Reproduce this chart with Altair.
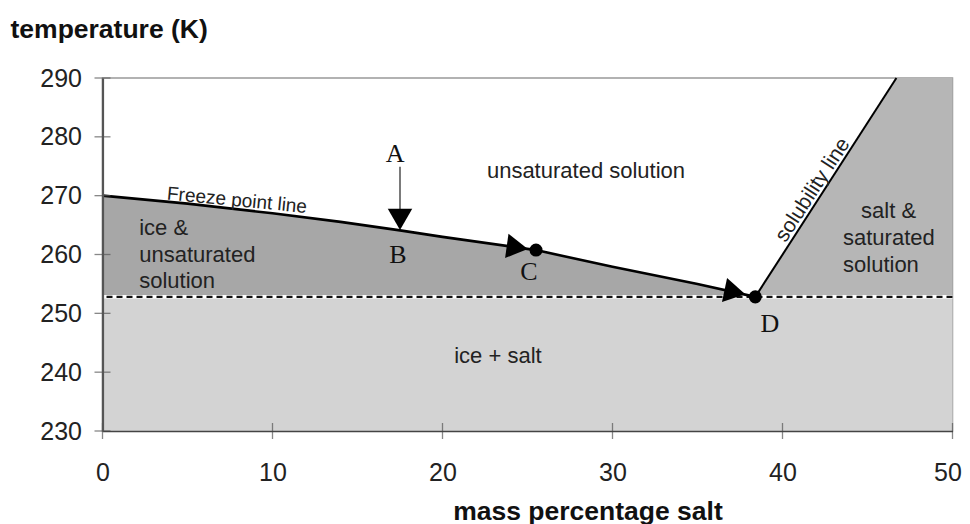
import altair as alt
import pandas as pd

# ---------------- data ----------------
x_ticks = [0, 10, 20, 30, 40, 50]
y_ticks = [230, 240, 250, 260, 270, 280, 290]

# freeze point line (mass % salt, K)
freeze_x = [0, 5, 10, 14, 17.5, 20, 25.5, 30, 35, 38.4]
freeze_T = [270.0, 268.65, 267.0, 265.55, 264.1, 263.0, 260.75, 257.9, 255.0, 252.8]
eutectic_T = 252.8

# solubility line
sol_x = [38.4, 46.7]
sol_T = [252.8, 290.0]

# labelled points
pt_names = ["B", "C", "D"]
pt_x = [17.5, 25.5, 38.4]
pt_T = [264.1, 260.75, 252.8]

# arrow A -> B shaft
arrow_x = [17.5]
arrow_top = [274.9]
arrow_bot = [267.6]

# direction markers along the freeze line
dirBC_x = [24.4]
dirBC_T = [261.2]
dirD_x = [37.2]
dirD_T = [253.6]

# text annotations
center_labels = ["unsaturated solution", "ice + salt"]
center_x = [28.44, 23.26]
center_T = [273.05, 241.56]

left_labels = ["ice &", "unsaturated", "solution", "salt &", "saturated", "solution"]
left_x = [2.16, 2.16, 2.16, 44.62, 43.56, 43.56]
left_T = [263.31, 258.77, 254.30, 266.20, 261.61, 257.08]

letters = ["A", "B", "C", "D"]
letter_x = [17.21, 17.38, 25.09, 39.26]
letter_T = [275.77, 258.55, 255.66, 246.83]

freeze_lbl = ["Freeze point line"]
freeze_lbl_x = [7.88]
freeze_lbl_T = [268.21]

sol_lbl = ["solubility line"]
sol_lbl_x = [41.79]
sol_lbl_T = [270.96]

# ---------------- frames ----------------
xmin, xmax = x_ticks[0], x_ticks[-1]
ymin, ymax = y_ticks[0], y_ticks[-1]

icesalt_df = pd.DataFrame({"x": [xmin], "x2": [xmax], "y": [ymin], "y2": [eutectic_T]})
freeze_df = pd.DataFrame({"x": freeze_x, "y": freeze_T, "y2": [eutectic_T] * len(freeze_x)})
salt_df = pd.DataFrame({"x": sol_x, "x2": [xmax] * len(sol_x), "y": sol_T})
sol_df = pd.DataFrame({"x": sol_x, "y": sol_T})
eut_df = pd.DataFrame({"y": [eutectic_T]})
pts_df = pd.DataFrame({"name": pt_names, "x": pt_x, "y": pt_T})
arrow_df = pd.DataFrame({"x": arrow_x, "y": arrow_top, "y2": arrow_bot})
B_df = pts_df[pts_df["name"] == "B"]
CD_df = pts_df[pts_df["name"] != "B"]
dirBC_df = pd.DataFrame({"x": dirBC_x, "y": dirBC_T})
dirD_df = pd.DataFrame({"x": dirD_x, "y": dirD_T})
center_df = pd.DataFrame({"t": center_labels, "x": center_x, "y": center_T})
left_df = pd.DataFrame({"t": left_labels, "x": left_x, "y": left_T})
letter_df = pd.DataFrame({"t": letters, "x": letter_x, "y": letter_T})
flbl_df = pd.DataFrame({"t": freeze_lbl, "x": freeze_lbl_x, "y": freeze_lbl_T})
slbl_df = pd.DataFrame({"t": sol_lbl, "x": sol_lbl_x, "y": sol_lbl_T})
xt_df = pd.DataFrame({"x": x_ticks, "y": [ymin] * len(x_ticks)})
yt_df = pd.DataFrame({"x": [xmin] * len(y_ticks), "y": y_ticks})

# ---------------- scales / axes ----------------
xs = alt.Scale(domain=[xmin, xmax], nice=False, zero=False)
ys = alt.Scale(domain=[ymin, ymax], nice=False, zero=False)

SANS = "Liberation Sans"
SERIF = "Liberation Serif"

x_axis = alt.Axis(
    values=x_ticks, title="mass percentage salt", grid=False, ticks=False, tickSize=0,
    labelPadding=29, labelFontSize=25, labelFont=SANS, labelColor="#222",
    labelFlush=False, labelBaseline="top",
    labelOffset={"condition": {"test": f"datum.value == {xmax}", "value": -5}, "value": 0},
    titleFont=SANS, titleFontSize=26.5, titleFontWeight="bold", titleColor="#111",
    titleX=485, titleY=88, titleAlign="center", titleBaseline="alphabetic",
    domainColor="#444", domainWidth=1.6, zindex=1,
)
y_axis = alt.Axis(
    values=y_ticks, title="temperature (K)", grid=False, ticks=False, tickSize=0,
    labelPadding=21, labelFontSize=25, labelFont=SANS, labelColor="#222",
    labelFlush=False,
    titleFont=SANS, titleFontSize=26.5, titleFontWeight="bold", titleColor="#111",
    titleAngle=0, titleX=-92.5, titleY=-41, titleAlign="left", titleBaseline="alphabetic",
    domainColor="#555", domainWidth=2.2, zindex=1,
)


def X(f="x"):
    return alt.X(f"{f}:Q", scale=xs, axis=x_axis)


def Y(f="y"):
    return alt.Y(f"{f}:Q", scale=ys, axis=y_axis)


# ---------------- layers ----------------
icesalt = alt.Chart(icesalt_df).mark_rect(color="#d3d3d3").encode(
    x=X(), x2="x2:Q", y=Y(), y2="y2:Q")

iceunsat = alt.Chart(freeze_df).mark_area(color="#a7a7a7", opacity=1).encode(
    x=X(), y=Y(), y2="y2:Q")

saltsat = alt.Chart(salt_df).mark_area(color="#b6b6b6", opacity=1, orient="horizontal").encode(
    y=Y(), x=X(), x2="x2:Q")

eut_white = alt.Chart(eut_df).mark_rule(color="white", strokeWidth=3.5).encode(y=Y())
eut_dash = alt.Chart(eut_df).mark_rule(color="#111", strokeWidth=2.2, strokeDash=[6, 4]).encode(y=Y())

freeze_line = alt.Chart(freeze_df).mark_line(color="black", strokeWidth=2.6).encode(x=X(), y=Y())
sol_line = alt.Chart(sol_df).mark_line(color="black", strokeWidth=2).encode(x=X(), y=Y())

arrow = alt.Chart(arrow_df).mark_rule(color="#333", strokeWidth=1.3).encode(x=X(), y=Y(), y2="y2:Q")
tri_B = alt.Chart(B_df).mark_point(shape="triangle-down", filled=True, size=600, color="black",
                                    opacity=1, yOffset=-11).encode(x=X(), y=Y())
tri_BC = alt.Chart(dirBC_df).mark_point(shape="triangle-right", filled=True, size=600, color="black",
                                         opacity=1, angle=8).encode(x=X(), y=Y())
tri_D = alt.Chart(dirD_df).mark_point(shape="triangle-right", filled=True, size=600, color="black",
                                       opacity=1, angle=12).encode(x=X(), y=Y())
dots = alt.Chart(CD_df).mark_point(shape="circle", filled=True, size=170, color="black",
                                    opacity=1).encode(x=X(), y=Y())

txt_center = alt.Chart(center_df).mark_text(font=SANS, fontSize=22, align="center",
                                            baseline="alphabetic", color="#222").encode(
    x=X(), y=Y(), text="t:N")
txt_left = alt.Chart(left_df).mark_text(font=SANS, fontSize=22, align="left",
                                        baseline="alphabetic", color="#222").encode(
    x=X(), y=Y(), text="t:N")
txt_letters = alt.Chart(letter_df).mark_text(font=SERIF, fontSize=26, align="center",
                                             baseline="alphabetic", color="#111").encode(
    x=X(), y=Y(), text="t:N")
txt_freeze = alt.Chart(flbl_df).mark_text(font=SANS, fontSize=19, align="center",
                                          baseline="alphabetic", angle=5.5, color="#222").encode(
    x=X(), y=Y(), text="t:N")
txt_sol = alt.Chart(slbl_df).mark_text(font=SANS, fontSize=21, align="center",
                                       baseline="middle", angle=303, color="#222").encode(
    x=X(), y=Y(), text="t:N")

xticks = alt.Chart(xt_df).mark_tick(orient="vertical", size=16, thickness=1.3, color="#555").encode(
    x=X(), y=Y())
yticks = alt.Chart(yt_df).mark_tick(orient="horizontal", size=16, thickness=1.3, color="#555").encode(
    x=X(), y=Y())

chart = alt.layer(
    icesalt, iceunsat, saltsat, eut_white, eut_dash, freeze_line, sol_line,
    arrow, tri_B, tri_BC, tri_D, dots,
    txt_center, txt_left, txt_letters, txt_freeze, txt_sol,
    xticks, yticks,
).properties(
    width=850, height=353,
    autosize=alt.AutoSizeParams(type="none"),
    padding={"left": 94.5, "top": 70, "right": 9.5, "bottom": 93},
    background="white",
).configure_view(stroke="#999", strokeWidth=1.5)

chart.save("out.html", embed_options={"renderer": "svg", "actions": False})
